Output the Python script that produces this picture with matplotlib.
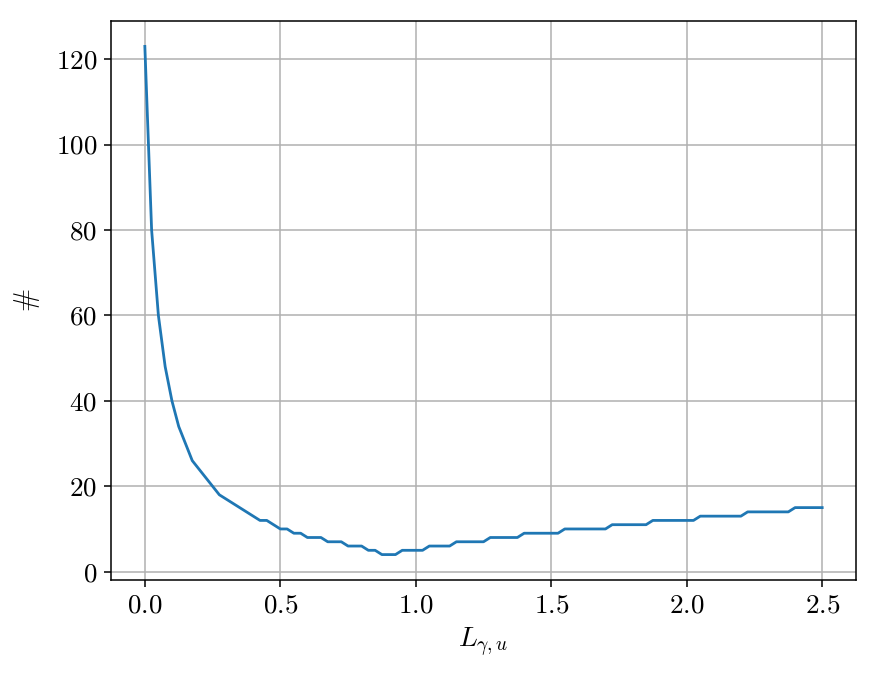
import numpy as np
import matplotlib
matplotlib.use("Agg")
import matplotlib.pyplot as plt

# sampling grid of L_{gamma,u}
x_vals = np.linspace(0.0, 2.5, 101)
# counts
y_vals = [123, 80, 60, 48, 40, 34, 30, 26, 24, 22,
          20, 18, 17, 16, 15, 14, 13, 12, 12, 11,
          10, 10, 9, 9, 8, 8, 8, 7, 7, 7,
          6, 6, 6, 5, 5, 4, 4, 4, 5, 5,
          5, 5, 6, 6, 6, 6, 7, 7, 7, 7,
          7, 8, 8, 8, 8, 8, 9, 9, 9, 9,
          9, 9, 10, 10, 10, 10, 10, 10, 10, 11,
          11, 11, 11, 11, 11, 12, 12, 12, 12, 12,
          12, 12, 13, 13, 13, 13, 13, 13, 13, 14,
          14, 14, 14, 14, 14, 14, 15, 15, 15, 15,
          15]

plt.rcParams['font.family'] = 'serif'
plt.rcParams['font.serif'] = ['cmr10']
plt.rcParams['mathtext.fontset'] = 'cm'
plt.rcParams['axes.formatter.use_mathtext'] = True

fig = plt.figure(figsize=(8.78, 6.73), dpi=100)
ax = fig.add_axes([0.1264, 0.1382, 0.975 - 0.1264, 0.9688 - 0.1382])
ax.plot(x_vals, y_vals, color='#1f77b4', linewidth=2.0)
ax.grid(True, color='#b0b0b0', linewidth=1.1)
ax.set_axisbelow(True)
ax.set_xlabel(r'$L_{\gamma,u}$', fontsize=20, labelpad=6)
ax.set_ylabel(r'$\#$', fontsize=20, labelpad=10)
ax.tick_params(labelsize=19.5, length=5, width=1.1, pad=5)
for s in ax.spines.values():
    s.set_linewidth(1.1)
fig.savefig('out.png', dpi=100)
